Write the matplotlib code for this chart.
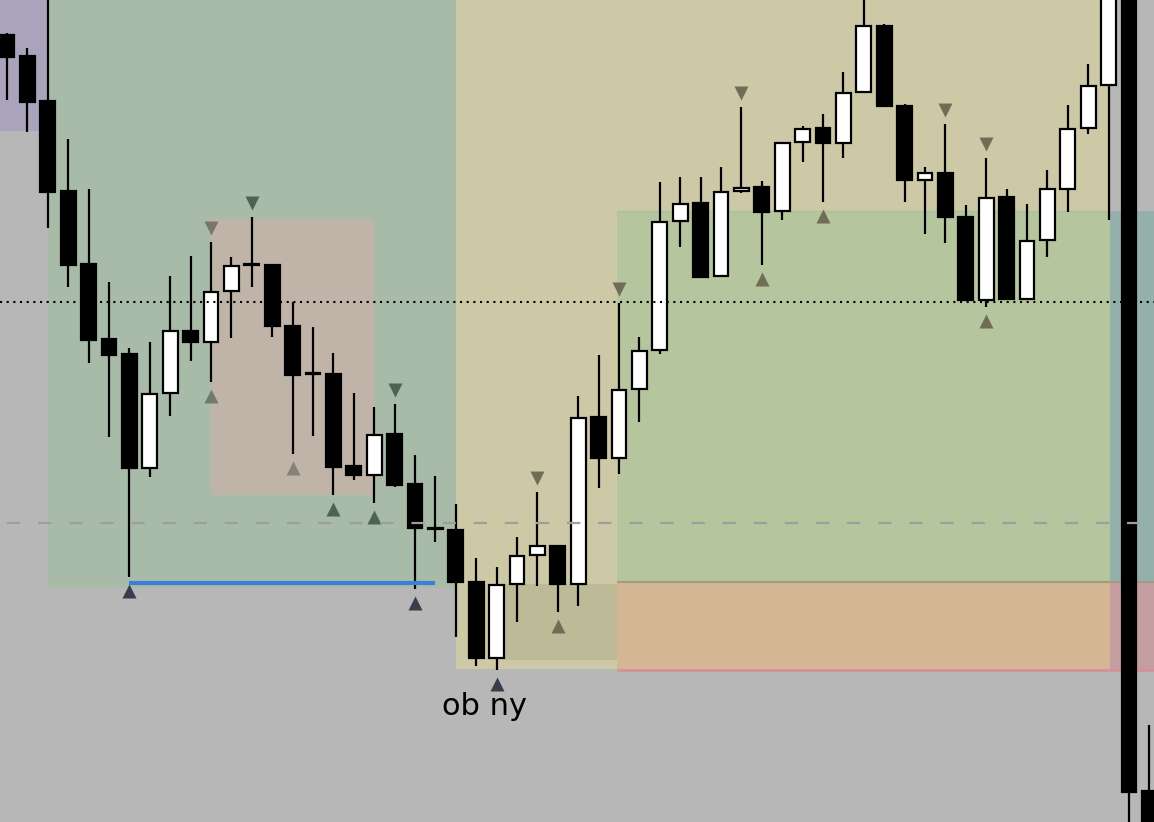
import numpy as np
import matplotlib.pyplot as plt
from matplotlib.patches import Rectangle

# ohlc, harga dalam satuan chart (0 = bawah gambar)
opens  = [787, 766, 721, 631, 558, 483, 468, 354, 429, 491, 480, 531, 557, 557, 496, 448, 448, 356, 347, 388,
          338, 293, 292, 240, 164, 238, 267, 276, 238, 405, 364, 433, 472, 601, 619, 546, 631, 635, 611, 680,
          694, 679, 730, 796, 716, 642, 649, 605, 522, 625, 523, 582, 633, 694, 737, 860, 31]
highs  = [789, 774, 842, 683, 633, 540, 474, 480, 546, 566, 580, 565, 605, 558, 520, 495, 469, 429, 415, 418,
          367, 346, 318, 264, 255, 285, 330, 277, 426, 467, 519, 485, 640, 645, 645, 655, 715, 641, 679, 696,
          708, 750, 842, 798, 718, 655, 698, 617, 664, 633, 618, 652, 717, 758, 870, 870, 97]
lows   = [722, 690, 594, 535, 459, 385, 245, 345, 406, 461, 440, 484, 535, 485, 368, 386, 327, 342, 319, 335,
          233, 280, 185, 156, 152, 200, 236, 210, 216, 334, 348, 400, 468, 575, 545, 545, 629, 557, 602, 660,
          620, 664, 729, 715, 620, 588, 579, 522, 515, 523, 523, 565, 610, 688, 602, -30, -30]
closes = [765, 720, 630, 557, 482, 467, 354, 428, 491, 480, 530, 556, 557, 496, 447, 448, 355, 347, 387, 337,
          294, 293, 240, 164, 237, 266, 276, 238, 404, 364, 432, 471, 600, 618, 545, 630, 634, 610, 679, 693,
          679, 729, 796, 716, 642, 649, 605, 522, 624, 523, 581, 633, 693, 736, 860, 30, -20]

# fractal / swing markers (index candle)
up_idx   = [6, 10, 14, 16, 18, 20, 24, 27, 37, 40, 48]
up_col   = ['#363d4b', '#6e7b6e', '#86807a', '#4b6456', '#4b6456', '#363d4b', '#363d4b',
            '#6f6d56', '#6f6d56', '#6f6d56', '#6f6d56']
down_idx = [10, 12, 19, 26, 30, 36, 46, 48]
down_col = ['#7a756a', '#4b6456', '#4b6456', '#6f6d56', '#6f6d56', '#6f6d56', '#6f6d56', '#6f6d56']

# zona: x0, x1 (index candle), y0, y1, warna
zones = [
    (-1, 2, 691, 900, '#a9a3bc'),
    (2, 22, 234, 900, '#a8bba8'),
    (10, 18, 327, 603, '#c0b4a9'),
    (22, 54.07, 153, 900, '#cdc9a6'),
    (24.4, 29.9, 162, 238, '#bdba98'),
    (29.9, 54.07, 240, 611, '#b5c59e'),
    (54.07, 58, 240, 611, '#95b0ab'),
    (29.9, 54.07, 152, 240, '#d4b594'),
    (54.07, 58, 152, 240, '#c59ea1'),
]
eq_level = 520      # garis titik
mid_level = 299     # garis putus-putus
low_level = 239     # garis biru
low_span = (6, 21)

fig = plt.figure(figsize=(11.54, 8.22), dpi=100, facecolor='#b7b7b7')
ax = fig.add_axes([0, 0, 1, 1])
ax.set_facecolor('#b7b7b7')

for x0, x1, y0, y1, c in zones:
    ax.add_patch(Rectangle((x0, y0), x1 - x0, y1 - y0, color=c, lw=0, zorder=1))
ax.hlines(240, 29.9, 58, color='#a29e7c', lw=1.5, zorder=1.5)
ax.hlines(152, 29.9, 58, color='#d4909a', lw=2, zorder=1.5)
ax.hlines(611, 29.9, 54.07, color='#a9c2a0', lw=1, zorder=1.5)

x = np.arange(len(opens))
o = np.array(opens, float)
c = np.array(closes, float)
h = np.array(highs, float)
l = np.array(lows, float)
bull = c > o

ax.vlines(x, l, h, color='black', lw=1.6, zorder=3)
body_h = np.maximum(np.abs(c - o), 1.2)
ax.bar(x, body_h, bottom=np.minimum(o, c), width=0.72,
       color=np.where(bull, 'white', 'black'), edgecolor='black', linewidth=1.6, zorder=4)

off = 14
for i, col in zip(up_idx, up_col):
    ax.plot(i, lows[i] - off, marker='^', ms=9.5, color=col, mec='none', zorder=5)
for i, col in zip(down_idx, down_col):
    ax.plot(i, highs[i] + off, marker='v', ms=9.5, color=col, mec='none', zorder=5)

ax.axhline(eq_level, color='black', lw=1.5, ls=(0, (1, 2.2)), zorder=6)
ax.hlines(mid_level, 0, 58, color='#9e9e9e', lw=1.6, ls=(0, (6, 8)), zorder=6)
ax.hlines(low_level, low_span[0], low_span[1], color='#3b7fdb', lw=3, zorder=6)

ax.text(21.33, 107, 'ob ny', fontsize=22, ha='left', va='baseline', color='black', zorder=7)

ax.set_xlim(-7 / 20.4, (1154 - 7) / 20.4)
ax.set_ylim(0, 822)
ax.axis('off')
fig.savefig('out.png', dpi=100, facecolor=fig.get_facecolor())
